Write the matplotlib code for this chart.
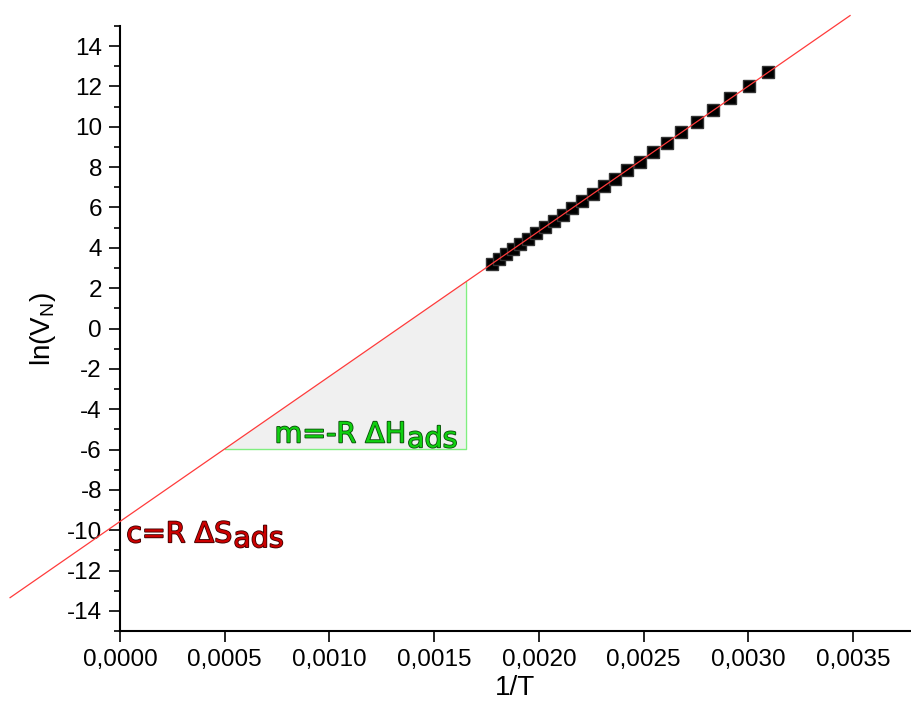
import numpy as np
import matplotlib
matplotlib.use('Agg')
from matplotlib import pyplot as plt
from matplotlib import patheffects as pe
from matplotlib.ticker import MultipleLocator, FuncFormatter

# measured points, 1/T and ln(V_N)
inv_T = [0.001776, 0.001808, 0.001842, 0.001876, 0.001912, 0.001949, 0.001988,
         0.002028, 0.002070, 0.002114, 0.002160, 0.002208, 0.002257, 0.002309,
         0.002364, 0.002421, 0.002481, 0.002545, 0.002611, 0.002681, 0.002755,
         0.002833, 0.002915, 0.003003, 0.003096]
ln_VN = [3.20, 3.44, 3.69, 3.95, 4.20, 4.46, 4.73,
         5.03, 5.33, 5.64, 5.98, 6.33, 6.68, 7.05,
         7.43, 7.84, 8.27, 8.73, 9.22, 9.72, 10.25,
         10.82, 11.43, 12.04, 12.72]

# range of the fit line and of the slope triangle
line_range = [-0.000525, 0.003486]
tri_x = [0.0005, 0.00165]

plt.rcParams['font.family'] = ['Liberation Sans', 'DejaVu Sans']

fig = plt.figure(figsize=(9.12, 7.16), dpi=100)
ax = fig.add_axes([0.1316, 0.1187, 0.8664, 0.845])

m, c = np.polyfit(inv_T, ln_VN, 1)
fit = lambda x: m * np.asarray(x) + c

# slope triangle
y0 = fit(tri_x[0])
y1 = fit(tri_x[1])
ax.fill([tri_x[0], tri_x[1], tri_x[1]], [y0, y1, y0], color='#f0f0f0', zorder=1, lw=0)
ax.plot([tri_x[0], tri_x[1], tri_x[1]], [y0, y0, y1], color='#80ee80', lw=1.0, zorder=2)

ax.plot(inv_T, ln_VN, 's', color='black', ms=9, mec='#333333', zorder=3)
ax.plot(line_range, fit(line_range), color='#ff3b3b', lw=0.9, zorder=4, clip_on=False)

outline_g = [pe.withStroke(linewidth=1.2, foreground='#0a4a0a')]
outline_r = [pe.withStroke(linewidth=1.2, foreground='#3a0000')]

t1 = ax.text(0.000738, -5.65, 'm=-R ΔH', color='#10d010', fontsize=20.5,
             family='DejaVu Sans', path_effects=outline_g, zorder=5)
ax.annotate('ads', xy=(1, 0), xycoords=t1, xytext=(0.8, -3.5), textcoords='offset points',
            va='bottom', color='#10d010', fontsize=20.5, family='DejaVu Sans',
            path_effects=outline_g, zorder=5)

t2 = ax.text(0.00003, -10.6, 'c=R ΔS', color='#cc0000', fontsize=20.5,
             family='DejaVu Sans', path_effects=outline_r, zorder=5)
ax.annotate('ads', xy=(1, 0), xycoords=t2, xytext=(0.8, -3.5), textcoords='offset points',
            va='bottom', color='#cc0000', fontsize=20.5, family='DejaVu Sans',
            path_effects=outline_r, zorder=5)

ax.set_xlim(0, 0.003773)
ax.set_ylim(-15, 15)
ax.xaxis.set_major_locator(MultipleLocator(0.0005))
ax.yaxis.set_major_locator(MultipleLocator(2))
ax.yaxis.set_minor_locator(MultipleLocator(1))
ax.xaxis.set_major_formatter(FuncFormatter(lambda v, p: f'{v:.4f}'.replace('.', ',')))
ax.yaxis.set_major_formatter(FuncFormatter(lambda v, p: f'{v:.0f}'))

for side in ['top', 'right']:
    ax.spines[side].set_visible(False)
for side in ['left', 'bottom']:
    ax.spines[side].set_linewidth(1.5)

ax.tick_params(which='major', length=8, width=1.2, labelsize=17.5, pad=5)
ax.tick_params(which='minor', length=4.5, width=1.2)

ax.set_xlabel('1/T', fontsize=20, labelpad=3)
ax.set_ylabel(r'ln(V$_\mathregular{N}$)', fontsize=20, labelpad=6)

fig.savefig('out.png', dpi=100)
